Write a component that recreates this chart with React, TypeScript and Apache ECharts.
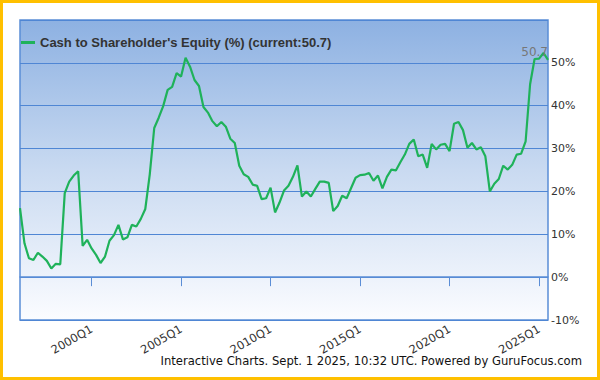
import React, { useEffect, useRef } from "react";
import * as echarts from "echarts";

const startYear = 1996;
const quarterCount = 119;
const categories: string[] = [];
for (let i = 0; i < quarterCount; i++) {
  categories.push(`${startYear + Math.floor(i / 4)}Q${(i % 4) + 1}`);
}

const equityValues: number[] = [
  16.1, 7.9, 4.4, 4.0, 5.7, 4.8, 3.8, 2.0, 3.1, 3.0,
  19.6, 22.3, 23.7, 24.7, 7.3, 8.7, 6.7, 5.2, 3.3, 4.8,
  8.5, 9.8, 12.2, 8.8, 9.3, 12.2, 11.8, 13.6, 15.9, 24.0,
  34.8, 37.2, 39.9, 43.7, 44.4, 47.6, 46.8, 51.2, 49.1, 46.0,
  44.6, 39.7, 38.4, 36.4, 35.2, 36.2, 35.1, 32.3, 31.3, 26.0,
  24.0, 23.4, 21.6, 21.3, 18.2, 18.4, 20.9, 15.1, 17.4, 20.2,
  21.3, 23.4, 26.1, 18.8, 20.0, 18.8, 20.6, 22.3, 22.3, 22.0,
  15.4, 16.6, 19.0, 18.4, 20.8, 23.2, 23.8, 23.9, 24.3, 22.5,
  23.7, 20.7, 23.4, 25.1, 24.9, 26.8, 28.6, 31.1, 32.1, 28.2,
  28.6, 25.5, 31.1, 29.8, 30.9, 31.1, 29.4, 35.8, 36.2, 34.3,
  30.2, 31.3, 29.8, 30.3, 28.2, 20.0, 21.8, 22.9, 26.0, 25.1,
  26.2, 28.6, 28.8, 31.7, 45.0, 50.9, 51.0, 52.3, 50.7,
];

const seriesName = "Cash to Shareholder's Equity (%) (current:50.7)";
const currentValue = 50.7;
const footerText = "Interactive Charts. Sept. 1 2025, 10:32 UTC. Powered by GuruFocus.com";

const isMajorTick = (idx: number) => {
  const c = categories[idx];
  if (!c) return false;
  const y = parseInt(c.slice(0, 4), 10);
  return c.endsWith("Q1") && y % 5 === 0;
};

export default function App() {
  const ref = useRef<HTMLDivElement>(null);
  useEffect(() => {
    document.body.style.margin = "0";
    const chart = echarts.init(ref.current!, null, { renderer: "svg" });
    const last = equityValues.length - 1;
    chart.setOption({
      animation: false,
      backgroundColor: "#fff",
      grid: {
        left: 20,
        right: 52,
        top: 20,
        bottom: 60,
        show: true,
        borderColor: "#5a8dd6",
        borderWidth: 1.5,
        backgroundColor: new echarts.graphic.LinearGradient(0, 0, 0, 1, [
          { offset: 0, color: "#8db1e2" },
          { offset: 0.5, color: "#c9daf1" },
          { offset: 1, color: "#fbfcff" },
        ]),
      },
      legend: {
        left: 21,
        top: 36,
        padding: 0,
        icon: "rect",
        itemWidth: 14,
        itemHeight: 3,
        textStyle: {
          color: "#333",
          fontSize: 13,
          fontWeight: "bold",
          fontFamily: "Liberation Sans",
        },
        data: [seriesName],
      },
      xAxis: {
        type: "category",
        data: categories,
        boundaryGap: false,
        axisLine: { show: true, lineStyle: { color: "#5a8dd6", width: 1.5 } },
        axisTick: {
          show: true,
          length: 9,
          interval: (idx: number) => isMajorTick(idx),
          lineStyle: { color: "#5a8dd6" },
        },
        axisLabel: {
          interval: (idx: number) => isMajorTick(idx),
          rotate: 30,
          margin: 8,
          color: "#333",
          fontSize: 11.5,
          fontFamily: "DejaVu Sans",
        },
        splitLine: { show: false },
      },
      yAxis: {
        type: "value",
        position: "right",
        min: -10,
        max: 60,
        interval: 10,
        axisLine: { show: false },
        axisTick: { show: false },
        axisLabel: {
          formatter: "{value}%",
          showMaxLabel: false,
          margin: 3,
          color: "#333",
          fontSize: 11,
          fontFamily: "DejaVu Sans",
        },
        splitLine: { show: true, lineStyle: { color: "#4f86d4", width: 1 } },
      },
      series: [
        {
          name: seriesName,
          type: "line",
          data: equityValues,
          symbol: "none",
          lineStyle: { color: "#1fb25a", width: 2.2 },
          itemStyle: { color: "#1fb25a" },
          markPoint: {
            symbol: "circle",
            symbolSize: 1,
            itemStyle: { color: "rgba(0,0,0,0)" },
            label: {
              show: true,
              position: "top",
              align: "right",
              distance: 1,
              formatter: String(currentValue),
              color: "#777",
              fontSize: 12,
              fontFamily: "DejaVu Sans",
            },
            data: [{ coord: [categories[last], equityValues[last]], value: currentValue }],
          },
        },
      ],
      graphic: [
        {
          type: "rect",
          shape: { x: 1.5, y: 1.5, width: 597, height: 377 },
          style: { fill: "none", stroke: "#ffc000", lineWidth: 3 },
          silent: true,
          z: 100,
        },
        {
          type: "text",
          x: 582,
          y: 367,
          style: {
            text: footerText,
            textAlign: "right",
            textVerticalAlign: "bottom",
            fill: "#111",
            fontSize: 11.6,
            fontFamily: "DejaVu Sans",
          },
          z: 100,
        },
      ],
    });
    return () => chart.dispose();
  }, []);
  return <div ref={ref} style={{ width: 600, height: 380 }} />;
}
